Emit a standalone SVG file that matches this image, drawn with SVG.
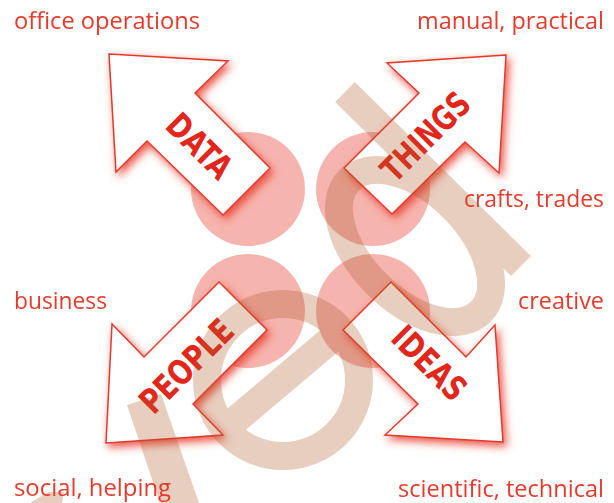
<svg xmlns="http://www.w3.org/2000/svg" width="614" height="503" viewBox="0 0 614 503">
<defs>
<filter id="glow" x="-25%" y="-25%" width="150%" height="150%">
<feGaussianBlur in="SourceAlpha" stdDeviation="4.5" result="b"/>
<feOffset dx="3" dy="4" in="b" result="o"/>
<feFlood flood-color="#e8392a" flood-opacity="0.85"/>
<feComposite in2="o" operator="in" result="s"/>
<feMerge><feMergeNode in="s"/><feMergeNode in="SourceGraphic"/></feMerge>
</filter>
</defs>
<style>
.lbl{font-family:"Open Sans","Noto Sans",sans-serif;font-size:23px;fill:#e83a2c}
.r{text-anchor:end}
.circ{fill:#e8392a;fill-opacity:0.38}
.arrow{fill:#fff;stroke:#e8392a;stroke-width:1.5}
.al{font-family:"Liberation Sans Narrow","DejaVu Sans Condensed",Roboto,sans-serif;font-weight:bold;font-size:34px;fill:#e3261b;text-anchor:middle}
.wmf{fill:#b05a28}
.wms{fill:none;stroke:#b05a28;stroke-width:28}
</style>

<g id="circles">
<circle class="circ" cx="248" cy="189" r="57"/>
<circle class="circ" cx="373" cy="189" r="57"/>
<circle class="circ" cx="248" cy="311" r="57"/>
<circle class="circ" cx="373" cy="311" r="57"/>
</g>

<g id="data">
<polygon class="arrow" filter="url(#glow)" points="109,54 228,61 195,93 270,168 223,215 147,141 116,172"/>
<text class="al" transform="translate(199.5,146) rotate(45)" y="12" textLength="77" lengthAdjust="spacingAndGlyphs">DATA</text>
</g>
<g id="things">
<polygon class="arrow" filter="url(#glow)" points="506,55 387,63 419,93 344,168 392,214 465,142 499,173"/>
<text class="al" transform="translate(425.5,136.5) rotate(-45)" y="12" textLength="110" lengthAdjust="spacingAndGlyphs">THINGS</text>
</g>
<g id="people">
<polygon class="arrow" filter="url(#glow)" points="106,443 112,324 144,357 219,282 267,330 193,404 223,435"/>
<text class="al" transform="translate(186.5,366) rotate(-45)" y="12" textLength="117" lengthAdjust="spacingAndGlyphs">PEOPLE</text>
</g>
<g id="ideas">
<polygon class="arrow" filter="url(#glow)" points="503,442 495,325 466,357 391,282 343,330 418,404 385,435"/>
<text class="al" transform="translate(429.5,363) rotate(45)" y="12" textLength="90" lengthAdjust="spacingAndGlyphs">IDEAS</text>
</g>

<g id="watermark" opacity="0.3">
<polygon class="wmf" points="354.8,82 530.8,256 511.2,276 335.2,102"/>
<ellipse class="wms" cx="415" cy="246" rx="93" ry="54" transform="rotate(45 415 246)"/>
<circle class="wms" cx="283" cy="380" r="76"/>
<line class="wms" x1="225" y1="429" x2="341" y2="331"/>
<polygon class="wmf" points="127,405 161,394 199,503 160,503"/>
<polygon class="wmf" points="30,503 48,492 64,492 62,503"/>
</g>

<g id="labels">
<text class="lbl" x="14" y="29" textLength="186" lengthAdjust="spacingAndGlyphs">office operations</text>
<text class="lbl r" x="604" y="29" textLength="187" lengthAdjust="spacingAndGlyphs">manual, practical</text>
<text class="lbl r" x="604" y="207" textLength="140" lengthAdjust="spacingAndGlyphs">crafts, trades</text>
<text class="lbl" x="14" y="309" textLength="93" lengthAdjust="spacingAndGlyphs">business</text>
<text class="lbl r" x="604" y="309" textLength="86" lengthAdjust="spacingAndGlyphs">creative</text>
<text class="lbl" x="14" y="496" textLength="157" lengthAdjust="spacingAndGlyphs">social, helping</text>
<text class="lbl r" x="604" y="497" textLength="206" lengthAdjust="spacingAndGlyphs">scientific, technical</text>
</g>
</svg>
